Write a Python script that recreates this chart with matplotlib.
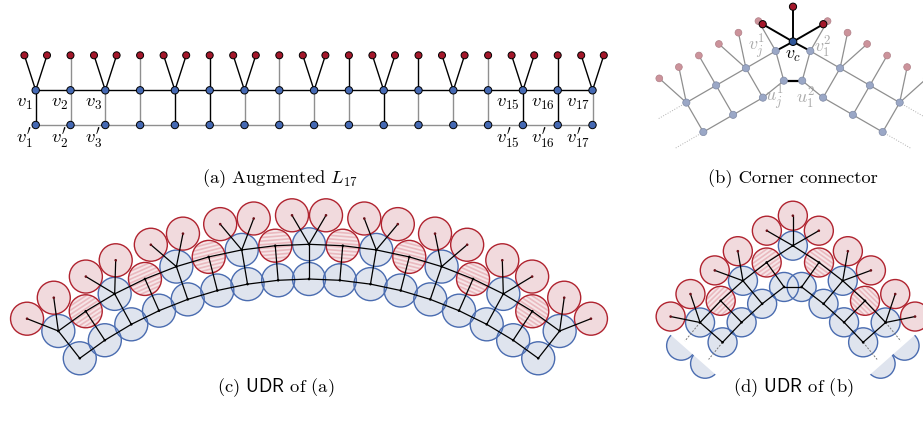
import numpy as np
import matplotlib.pyplot as plt
from matplotlib.patches import Circle, Polygon

plt.rcParams['mathtext.fontset'] = 'cm'
plt.rcParams['axes.unicode_minus'] = False

# ---- data -------------------------------------------------------------
# (a) augmented ladder L17: leaves per column, which edges are dark
leaf_counts = [2, 1, 2, 1, 2, 1, 2, 1, 2, 1, 2, 1, 2, 1, 2, 1, 2]
rung_dark = [1, 0, 0, 0, 1, 1, 0, 0, 0, 0, 1, 0, 0, 0, 1, 1, 0]
leaf_dark = [1, 0, 1, 0, 1, 1, 1, 0, 1, 1, 1, 1, 1, 0, 1, 1, 1]
label_cols = [1, 2, 3, 15, 16, 17]

# (b)/(d) one arm of the corner connector, leaves per rung (from v_j^1 outwards)
arm_leaf_counts = [1, 2, 1, 2]
apex_leaf_angles = [-60, 0, 60]
corner_labels = [r'$v_j^1$', r'$v_c$', r'$v_1^2$', r'$u_j^1$', r'$u_1^2$']

captions = [r'(a) Augmented $L_{17}$', '(b) Corner connector',
            r'(c) $\mathsf{UDR}$ of (a)', r'(d) $\mathsf{UDR}$ of (b)']

# ---- colours ----------------------------------------------------------
BLUE = '#4569b3'
RED = '#a3172a'
FADE_BLUE = '#9aa7c6'
FADE_RED = '#cc939b'
GREY = '#8f8f8f'
DISK_BLUE = '#dfe4ee'
DISK_BLUE_EDGE = '#4a6cb0'
DISK_RED = '#f1dadd'
DISK_RED_EDGE = '#b0232f'
STRIPE = '#eab9bf'
STRIPE_BG = '#f6e6e8'

fig = plt.figure(figsize=(9.23, 4.24), dpi=100)
ax = fig.add_axes([0, 0, 1, 1])
ax.set_xlim(0, 923)
ax.set_ylim(424, 0)
ax.axis('off')


def seg(p, q, color='k', lw=0.9, z=5, ls='-'):
    ax.plot([p[0], q[0]], [p[1], q[1]], color=color, lw=lw, zorder=z, ls=ls,
            solid_capstyle='round')


def node(p, fc, r=3.7, ec='k', lw=0.7, z=6):
    ax.add_patch(Circle(p, r, fc=fc, ec=ec, lw=lw, zorder=z))


def dot(p, color='k', r=1.3):
    ax.add_patch(Circle(p, r, fc=color, ec='none', zorder=7))


def disk(p, r, kind, ang=0.0, clip=None):
    if kind == 'blue':
        fill = Circle(p, r, fc=DISK_BLUE, ec='none', zorder=1)
        edge = Circle(p, r, fc='none', ec=DISK_BLUE_EDGE, lw=1.0, zorder=2)
        ax.add_patch(fill)
        ax.add_patch(edge)
        if clip is not None:
            fill.set_clip_path(clip)
            edge.set_clip_path(clip)
        return
    if kind == 'red':
        ax.add_patch(Circle(p, r, fc=DISK_RED, ec=DISK_RED_EDGE, lw=1.0, zorder=3))
        return
    # hatched red disk, stripes follow the tangent of the arc
    fill = Circle(p, r, fc=STRIPE_BG, ec='none', zorder=3)
    ax.add_patch(fill)
    t = np.array([np.cos(ang), np.sin(ang)])
    n = np.array([-t[1], t[0]])
    for o in np.arange(-r, r, 3.6):
        a = np.asarray(p) + o * n - r * t
        b = np.asarray(p) + o * n + r * t
        ln, = ax.plot([a[0], b[0]], [a[1], b[1]], color=STRIPE, lw=1.2, zorder=3.5)
        ln.set_clip_path(fill)
    ax.add_patch(Circle(p, r, fc='none', ec=DISK_RED_EDGE, lw=1.0, zorder=4))


# ---- (a) augmented ladder ------------------------------------------------
x0, dx, y_top, y_bot = 35.7, 34.8, 90.3, 125.0
xs = [x0 + i * dx for i in range(len(leaf_counts))]
for i in range(len(xs) - 1):
    seg((xs[i], y_top), (xs[i + 1], y_top), 'k', 1.0)
    seg((xs[i], y_bot), (xs[i + 1], y_bot), GREY, 1.0)
for i, x in enumerate(xs):
    seg((x, y_top), (x, y_bot), 'k' if rung_dark[i] else GREY, 1.0)
    lc = 'k' if leaf_dark[i] else GREY
    offs = [-11.3, 11.3] if leaf_counts[i] == 2 else [0.0]
    for o in offs:
        seg((x, y_top), (x + o, y_top - 35), lc, 1.0)
        node((x + o, y_top - 35), RED, 3.5)
    node((x, y_top), BLUE)
    node((x, y_bot), BLUE)
for c in label_cols:
    x = xs[c - 1]
    ax.text(x - 3, y_top + 12, r'$v_{%d}$' % c, fontsize=13.5, ha='right', va='center')
    ax.text(x - 3, y_bot + 13, r'$v^{\prime}_{%d}$' % c, fontsize=13.5, ha='right',
            va='center')

# ---- (b) corner connector -------------------------------------------------
vc = np.array([793.0, 41.7])
step_b, rung_b, leaf_r, leaf_t = 34.4, 34.0, 34.5, 11.3
for side in (-1, 1):
    a = np.array([side * np.cos(np.radians(30)), np.sin(np.radians(30))])
    rhat = np.array([side * 0.5, -np.sin(np.radians(60))])
    that = -a
    top0 = np.array([vc[0] + side * 17.3, 51.0])
    tops = [top0 + i * step_b * a for i in range(len(arm_leaf_counts))]
    bots = [t - rung_b * rhat for t in tops]
    bots[0] = np.array([vc[0] + side * 9.2, 80.7])
    for i, t in enumerate(tops):
        if i + 1 < len(tops):
            seg(t, tops[i + 1], GREY, 0.9)
            seg(bots[i], bots[i + 1], GREY, 0.9)
        seg(t, bots[i], GREY, 0.9)
        offs = [-leaf_t, leaf_t] if arm_leaf_counts[i] == 2 else [0.0]
        for o in offs:
            lp = t + leaf_r * rhat + o * that
            seg(t, lp, GREY, 0.9)
            node(lp, FADE_RED, 3.4, ec='#b08088', lw=0.5)
        node(t, FADE_BLUE, 3.6, ec='#7f8aa5', lw=0.5)
        node(bots[i], FADE_BLUE, 3.6, ec='#7f8aa5', lw=0.5)
    seg(tops[-1], tops[-1] + 0.95 * step_b * a, '#b0b0b0', 0.7, ls=':')
    seg(bots[-1], bots[-1] + 0.95 * step_b * a, '#b0b0b0', 0.7, ls=':')
    seg(vc, top0, 'k', 1.4)
seg((vc[0] - 9.2, 80.7), (vc[0] + 9.2, 80.7), 'k', 1.6)
for ang in apex_leaf_angles:
    th = np.radians(ang)
    lp = vc + 35 * np.array([np.sin(th), -np.cos(th)])
    seg(vc, lp, 'k', 1.4)
    node(lp, RED, 3.6)
node(vc, '#2f5597', 3.8)
lab_pos = [(757, 47), (792.7, 55), (823, 47), (774, 98), (806, 98)]
for s, (lx, ly) in zip(corner_labels, lab_pos):
    col = 'k' if s == r'$v_c$' else '#aaaaaa'
    ax.text(lx, ly, s, fontsize=13, color=col, ha='center', va='center')


# ---- arc ladders for the UDRs --------------------------------------------
def arc_pt(C, R, phi):
    return np.array([C[0] + R * np.sin(phi), C[1] - R * np.cos(phi)])


def udr_rung(C, Rb, Rt, phi, kind, r, lr, lt, tops, bots):
    t = arc_pt(C, Rt, phi)
    b = arc_pt(C, Rb, phi)
    rhat = np.array([np.sin(phi), -np.cos(phi)])
    that = np.array([np.cos(phi), np.sin(phi)])
    disk(b, r, 'blue')
    dot(b)
    seg(t, b)
    if kind == 2:
        disk(t, r, 'blue')
        for o in (-lt, lt):
            lp = t + lr * rhat + o * that
            disk(lp, r, 'red')
            seg(t, lp)
            dot(lp, '#6d1119')
    else:
        disk(t, r, 'hatch', ang=phi)
    dot(t)
    tops.append(t)
    bots.append(b)


# (c)
Cc = np.array([309.0, 650.0])
step_c = np.radians(4.77)
tops, bots = [], []
for i, kind in enumerate(leaf_counts):
    udr_rung(Cc, 371.0, 405.7, (i - 8) * step_c, kind, 16.5, 29.0, 17.0, tops, bots)
for i in range(len(tops) - 1):
    seg(tops[i], tops[i + 1])
    seg(bots[i], bots[i + 1])

# (d)
apex = np.array([792.85, 245.7])
phi0, step_d = np.radians(35.4), np.radians(4.4)
Rb_d, Rt_d, r_d = 360.0, 390.0, 14.5
arm_bottoms = []
for side in (-1, 1):
    # arc centre lies below the opposite arm
    Cd = np.array([apex[0] - side * 199.75, 580.4])
    tops, bots = [], []
    for i, kind in enumerate(arm_leaf_counts):
        udr_rung(Cd, Rb_d, Rt_d, side * (phi0 + i * step_d), kind, r_d, 26.0, 15.0,
                 tops, bots)
    for i in range(len(tops) - 1):
        seg(tops[i], tops[i + 1])
        seg(bots[i], bots[i + 1])
    seg(apex, tops[0])
    arm_bottoms.append(bots[0])
    # continuation, cut off along a rung
    phi_n = side * (phi0 + len(arm_leaf_counts) * step_d)
    tn, bn = arc_pt(Cd, Rt_d, phi_n), arc_pt(Cd, Rb_d, phi_n)
    phi_l = side * (phi0 + (len(arm_leaf_counts) - 1) * step_d)
    u = np.array([np.sin(phi_l), -np.cos(phi_l)])
    inward = np.array([np.cos(phi_l), np.sin(phi_l)]) * side
    mid = (tn + bn) / 2
    poly = Polygon([mid + 80 * u, mid - 80 * u, mid - 80 * u + 120 * inward,
                    mid + 80 * u + 120 * inward], closed=True, transform=ax.transData)
    disk(tn, r_d, 'blue', clip=poly)
    disk(bn, r_d, 'blue', clip=poly)
    seg(tops[-1], tops[-1] + 0.8 * (tn - tops[-1]), '#777777', 0.7, ls=(0, (2, 1.5)))
    seg(bots[-1], bots[-1] + 0.8 * (bn - bots[-1]), '#777777', 0.7, ls=(0, (2, 1.5)))
seg(arm_bottoms[0], arm_bottoms[1])
disk(apex, r_d, 'blue')
dot(apex)
for ang in apex_leaf_angles:
    th = np.radians(ang)
    lp = apex + 30 * np.array([np.sin(th), -np.cos(th)])
    disk(lp, r_d, 'red')
    seg(apex, lp)
    dot(lp, '#6d1119')

# ---- captions ---------------------------------------------------------------
cap_pos = [(280, 179), (793, 179), (276, 388), (793, 388)]
for s, (cx, cy) in zip(captions, cap_pos):
    ax.text(cx, cy, s, fontsize=13.3, family='cmr10', ha='center', va='center')

fig.savefig('out.png', dpi=100)
